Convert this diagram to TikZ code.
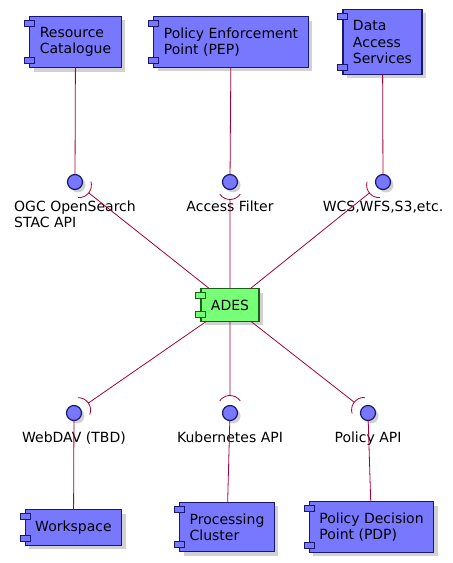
\documentclass[tikz,border=0pt]{standalone}
\usepackage{fontspec}
\setmainfont{DejaVu Sans}
\usepackage{tikz}
\usetikzlibrary{positioning,calc,shadows}
\definecolor{compblue}{RGB}{120,120,255}
\definecolor{compedge}{RGB}{24,24,112}
\definecolor{adesgreen}{RGB}{119,255,119}
\definecolor{adesedge}{RGB}{20,100,20}
\definecolor{wirered}{RGB}{168,0,54}
\tikzset{
  comp/.style={draw=compedge,fill=compblue,line width=1.2pt,align=left,inner xsep=10pt,inner ysep=11pt,outer sep=0pt,
    general shadow={fill=black!18,shadow xshift=4pt,shadow yshift=-4pt}},
  comptab/.style={draw=compedge,fill=compblue,line width=1pt},
  iface/.style={circle,draw=compedge,fill=compblue,line width=1.2pt,minimum size=15pt,inner sep=0pt,outer sep=0pt,
    general shadow={fill=black!18,shadow xshift=3pt,shadow yshift=-3pt}},
  wire/.style={draw=wirered,line width=0.8pt},
  ilabel/.style={align=left,inner sep=0pt}
}
\newcommand{\comptabs}[2]{%
  \draw[comptab,#2] ([xshift=-5pt,yshift=-4pt]#1.north west) rectangle ([xshift=5pt,yshift=-10pt]#1.north west);
  \draw[comptab,#2] ([xshift=-5pt,yshift=4pt]#1.south west) rectangle ([xshift=5pt,yshift=10pt]#1.south west);}
\newcommand{\socket}[2]{%
  \draw[wire] let \p1=($(#2)-(#1)$), \n1={atan2(\y1,\x1)} in
    ($(#1)+(\n1:5pt)+(\n1-55:12.5pt)$) arc[start angle=\n1-55,end angle=\n1+55,radius=12.5pt]
    ($(#1)+(\n1:17.5pt)$) -- (#2);}
\begin{document}
\begin{tikzpicture}[x=1pt,y=1pt,font=\fontsize{14}{16.3}\selectfont]
\useasboundingbox (0,0) rectangle (453,563);
\node[comp] (rc) at (75.5,521) {Resource\\Catalogue};
\node[comp] (pep) at (231,521) {Policy Enforcement\\Point (PEP)};
\node[comp] (das) at (382.5,521) {Data\\Access\\Services};
\node[comp,fill=adesgreen,draw=adesedge] (ades) at (230,258) {ADES};
\node[comp] (ws) at (73.5,35.5) {Workspace};
\node[comp] (pc) at (227,36) {Processing\\Cluster};
\node[comp] (pdp) at (371.5,36) {Policy Decision\\Point (PDP)};
\foreach \nd in {rc,pep,das,ws,pc,pdp} {\comptabs{\nd}{}}
\comptabs{ades}{fill=adesgreen,draw=adesedge}
\foreach \name/\x/\y in {catapi/75/381,filter/230/381,dataapi/383/381,webdav/74/150,kubeapi/230/150,policyapi/368/150}
  \node[iface] (\name) at (\x,\y) {};
\node[ilabel,below=11pt of catapi] (catlbl) {OGC OpenSearch\\STAC API};
\node[ilabel,below=11pt of filter] (filterlbl) {Access Filter};
\node[ilabel,below=11pt of dataapi] (datalbl) {WCS,WFS,S3,etc.};
\node[ilabel,below=11pt of webdav] (webdavlbl) {WebDAV (TBD)};
\node[ilabel,below=11pt of kubeapi] (kubelbl) {Kubernetes API};
\node[ilabel,below=11pt of policyapi] (policylbl) {Policy API};
\draw[wire] (rc) -- (catapi);
\draw[wire] (pep) -- (filter);
\draw[wire] (das) -- (dataapi);
\draw[wire] (webdav) -- (ws);
\draw[wire] (kubeapi) -- (pc);
\draw[wire] (policyapi) -- (pdp);
\foreach \i in {catapi,filter,dataapi,webdav,kubeapi,policyapi} {\socket{\i}{ades}}
\end{tikzpicture}
\end{document}
